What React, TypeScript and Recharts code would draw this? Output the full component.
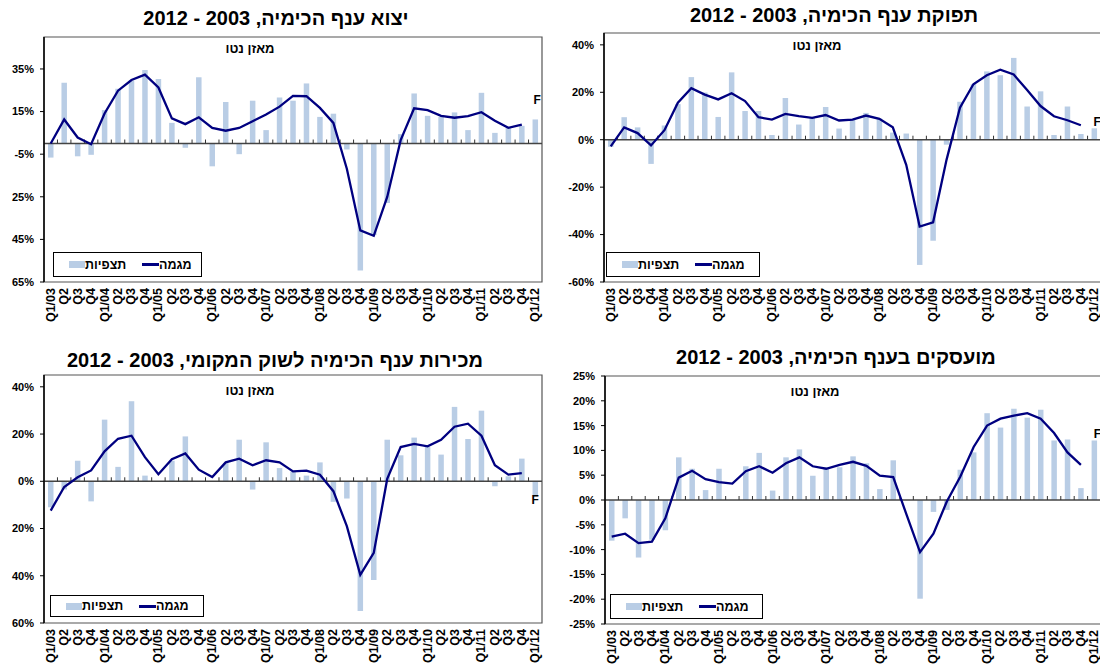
import React from "react";
import {
  ComposedChart,
  Bar,
  Line,
  XAxis,
  YAxis,
  ReferenceLine,
  ReferenceArea,
  ReferenceDot,
} from "recharts";

const FONT = '"Liberation Sans", Arial, sans-serif';
const BAR = "#B9CDE5";
const LINE = "#000080";
const BORDER = "#555555";

const quarters = [
  "Q1/03", "Q2", "Q3", "Q4", "Q1/04", "Q2", "Q3", "Q4", "Q1/05", "Q2", "Q3", "Q4",
  "Q1/06", "Q2", "Q3", "Q4", "Q1/07", "Q2", "Q3", "Q4", "Q1/08", "Q2", "Q3", "Q4",
  "Q1/09", "Q2", "Q3", "Q4", "Q1/10", "Q2", "Q3", "Q4", "Q1/11", "Q2", "Q3", "Q4",
  "Q1/12",
];

// יצוא
const exportObs = [
  -6.6, 28.5, -6.0, -5.3, 15.7, 25.7, 29.5, 34.5, 30.3, 9.7, -2.0, 31.1,
  -10.7, 19.5, -5.0, 20.1, 6.3, 21.6, 20.1, 28.2, 12.5, 14.0, -2.8, -59.6,
  -43.0, -27.9, 4.4, 23.5, 13.0, 12.5, 14.6, 6.3, 23.8, 5.0, 7.4, 8.3, 11.3,
];
const exportTrend = [
  0, 11.3, 2.8, -0.3, 14.1, 24.8, 29.8, 32.3, 26.3, 11.8, 9.1, 12.3,
  7.3, 6.0, 7.3, 10.5, 13.6, 17.3, 22.4, 22.2, 16.7, 9.7, -11.8, -40.8,
  -43.3, -25.1, 1.6, 16.5, 15.7, 13.0, 12.1, 12.9, 14.7, 10.7, 7.4, 8.9, null,
];
const exportTicks = [35, 15, -5, -25, -45, -65];
const exportTickLabels = ["35%", "15%", "-5%", "25%", "45%", "65%"];

// תפוקה
const supplyObs = [
  -3.0, 9.5, 5.2, -10.2, 6.0, 15.0, 26.4, 19.9, 9.6, 28.4, 12.1, 12.1,
  2.0, 17.6, 6.4, 9.2, 13.8, 4.7, 8.5, 11.3, 8.9, 3.0, 2.6, -52.8,
  -42.6, -2.1, 16.0, 23.4, 28.8, 27.2, 34.5, 14.0, 20.4, 2.0, 14.0, 2.4, 4.8,
];
const supplyTrend = [
  -2.8, 5.2, 2.8, -2.4, 4.0, 15.6, 21.7, 19.0, 17.0, 19.6, 16.3, 9.5,
  8.5, 10.9, 9.9, 9.2, 10.4, 8.1, 8.5, 10.2, 8.8, 5.2, -10.6, -36.6,
  -34.8, -8.5, 13.5, 23.4, 27.2, 29.5, 27.5, 21.0, 14.2, 9.9, 8.2, 6.1, null,
];
const supplyTicks = [40, 20, 0, -20, -40, -60];
const supplyTickLabels = ["40%", "20%", "0%", "-20%", "-40%", "-60%"];

// מכירות לשוק המקומי
const localObs = [
  -11.0, -3.5, 8.7, -8.5, 26.1, 6.1, 33.9, 2.4, 0, 8.7, 19.0, 0,
  0, 7.7, 17.6, -3.5, 16.5, 5.6, 4.0, 2.4, 8.0, -8.7, -7.3, -54.9,
  -41.8, 17.6, 11.0, 18.5, 14.5, 11.3, 31.5, 17.9, 29.9, -2.1, 2.1, 9.6, -6.3,
];
const localTrend = [
  -12.4, -2.4, 1.7, 4.6, 12.7, 18.0, 19.3, 10.2, 3.0, 9.3, 11.8, 4.9,
  1.8, 8.0, 9.6, 6.8, 8.9, 8.0, 4.2, 4.5, 2.8, -4.2, -19.0, -39.6,
  -30.3, 1.0, 14.5, 15.8, 14.8, 17.6, 23.1, 24.4, 19.3, 6.8, 2.8, 3.5, null,
];
const localTicks = [40, 20, 0, -20, -40, -60];
const localTickLabels = ["40%", "20%", "0%", "20%", "40%", "60%"];

// מועסקים
const employObs = [
  -8.2, -3.7, -11.6, -8.0, -6.1, 8.6, 6.3, 2.0, 6.3, 0, 6.8, 9.5,
  1.9, 8.6, 10.2, 4.9, 6.6, 6.6, 8.8, 7.4, 2.2, 8.0, 0, -19.9,
  -2.4, -2.0, 6.1, 9.6, 17.5, 14.6, 18.4, 16.6, 18.2, 12.0, 12.2, 2.4, 12.0,
];
const employTrend = [
  -7.4, -6.8, -8.7, -8.4, -3.7, 4.5, 5.9, 4.2, 3.6, 3.3, 5.8, 6.8,
  5.5, 7.4, 8.6, 6.8, 6.3, 7.1, 7.7, 6.9, 4.9, 4.6, -3.0, -10.5,
  -6.8, -0.3, 4.7, 10.7, 15.0, 16.4, 17.0, 17.5, 16.4, 13.5, 9.6, 7.1, null,
];
const employTicks = [25, 20, 15, 10, 5, 0, -5, -10, -15, -20, -25];
const employTickLabels = employTicks.map((t) => `${t}%`);

const ZeroLine = (props: any) => {
  const { x1, x2, y1 } = props;
  const step = (x2 - x1) / quarters.length;
  const marks = [];
  for (let i = 1; i < quarters.length; i++) {
    const x = x1 + step * i;
    marks.push(<line key={i} x1={x} x2={x} y1={y1 - 4} y2={y1} stroke="#333" strokeWidth={1} />);
  }
  return (
    <g>
      <line x1={x1} x2={x2} y1={y1} y2={y1} stroke="#444" strokeWidth={1.5} />
      {marks}
    </g>
  );
};

const QuarterTick = (props: any) => {
  const { x, y, payload } = props;
  return (
    <text
      x={0}
      y={0}
      transform={`translate(${x},${y + 6}) rotate(-90)`}
      textAnchor="end"
      dominantBaseline="central"
      fontFamily={FONT}
      fontWeight="bold"
      fontSize={12.5}
      fill="#000"
    >
      {quarters[Number(payload.value)]}
    </text>
  );
};

// "F" (forecast) mark above / below the last bar
const makeFMark = (dx: number, dy: number) => (props: any) => (
  <text
    x={props.cx + dx}
    y={props.cy + dy}
    textAnchor="middle"
    dominantBaseline="central"
    fontFamily={FONT}
    fontWeight="bold"
    fontSize={12}
    fill="#000"
  >
    F
  </text>
);

interface PanelProps {
  left: number;
  top: number;
  height: number;
  margin: { top: number; right: number; bottom: number; left: number };
  xHeight: number;
  obs: number[];
  trend: (number | null)[];
  domain: [number, number];
  ticks: number[];
  tickLabels: string[];
  fdx: number;
  fdy: number;
}

function Panel({ left, top, height, margin, xHeight, obs, trend, domain, ticks, tickLabels, fdx, fdy }: PanelProps) {
  const data = quarters.map((_, i) => ({ k: String(i), obs: obs[i], trend: trend[i] }));
  const last = quarters.length - 1;
  return (
    <div style={{ position: "absolute", left, top }}>
      <ComposedChart width={550} height={height} data={data} margin={margin}>
        <ReferenceArea
          y1={domain[0]}
          y2={domain[1]}
          fill="none"
          stroke={BORDER}
          strokeWidth={1.2}
          ifOverflow="visible"
        />
        <XAxis
          dataKey="k"
          interval={0}
          height={xHeight}
          tickSize={0}
          tickMargin={0}
          axisLine={false}
          tickLine={false}
          tick={<QuarterTick />}
        />
        <YAxis
          type="number"
          domain={domain}
          ticks={ticks}
          interval={0}
          width={40}
          tickSize={4}
          tickMargin={6}
          axisLine={{ stroke: "#000", strokeWidth: 1.5 }}
          tickLine={{ stroke: "#000" }}
          tick={{ fontSize: 11, fontWeight: "bold", fill: "#000", fontFamily: FONT }}
          tickFormatter={(v: number) => tickLabels[ticks.indexOf(v)] ?? ""}
        />
        <Bar dataKey="obs" fill={BAR} barSize={5.5} isAnimationActive={false} />
        <ReferenceLine y={0} shape={ZeroLine} />
        <Line
          type="linear"
          dataKey="trend"
          stroke={LINE}
          strokeWidth={2.3}
          dot={false}
          connectNulls={false}
          isAnimationActive={false}
        />
        <ReferenceDot
          x={String(last)}
          y={obs[last]}
          r={0}
          ifOverflow="visible"
          shape={makeFMark(fdx, fdy)}
        />
      </ComposedChart>
    </div>
  );
}

const Title = ({ text, cx, cy }: { text: string; cx: number; cy: number }) => (
  <div
    style={{
      position: "absolute",
      left: cx,
      top: cy - 12,
      transform: "translateX(-50%)",
      whiteSpace: "nowrap",
      direction: "rtl",
      fontFamily: FONT,
      fontWeight: "bold",
      fontSize: 20,
      lineHeight: "24px",
      color: "#000",
    }}
  >
    {text}
  </div>
);

const Note = ({ cx, cy }: { cx: number; cy: number }) => (
  <div
    style={{
      position: "absolute",
      left: cx,
      top: cy - 8,
      transform: "translateX(-50%)",
      whiteSpace: "nowrap",
      direction: "rtl",
      fontFamily: FONT,
      fontWeight: "bold",
      fontSize: 13,
      lineHeight: "16px",
      color: "#000",
    }}
  >
    מאזן נטו
  </div>
);

const LegendBox = ({ x, y, w, h }: { x: number; y: number; w: number; h: number }) => (
  <div
    style={{
      position: "absolute",
      left: x,
      top: y,
      width: w,
      height: h,
      boxSizing: "border-box",
      border: "1px solid #000",
      background: "#fff",
      display: "flex",
      alignItems: "center",
      paddingLeft: 15,
      fontFamily: FONT,
      fontWeight: "bold",
      fontSize: 12.5,
      color: "#000",
    }}
  >
    <span style={{ width: 16, height: 7, background: BAR, flex: "none" }} />
    <span style={{ direction: "rtl", width: 57, textAlign: "left", flex: "none" }}>תצפיות</span>
    <span style={{ width: 17, height: 3, background: LINE, flex: "none" }} />
    <span style={{ direction: "rtl", flex: "none" }}>מגמה</span>
  </div>
);

export default function App() {
  return (
    <div
      style={{
        position: "absolute",
        left: 0,
        top: 0,
        width: 1100,
        height: 664,
        overflow: "hidden",
        background: "#fff",
      }}
    >
      <Panel
        left={0}
        top={0}
        height={330}
        margin={{ top: 37, right: 8, bottom: 0, left: 4 }}
        xHeight={48}
        obs={exportObs}
        trend={exportTrend}
        domain={[-65, 50]}
        ticks={exportTicks}
        tickLabels={exportTickLabels}
        fdx={2}
        fdy={-19}
      />
      <Panel
        left={555}
        top={0}
        height={330}
        margin={{ top: 33, right: 4, bottom: 0, left: 9 }}
        xHeight={48}
        obs={supplyObs}
        trend={supplyTrend}
        domain={[-60, 45]}
        ticks={supplyTicks}
        tickLabels={supplyTickLabels}
        fdx={3}
        fdy={-6}
      />
      <Panel
        left={0}
        top={340}
        height={330}
        margin={{ top: 35, right: 8, bottom: 0, left: 4 }}
        xHeight={47}
        obs={localObs}
        trend={localTrend}
        domain={[-60, 45]}
        ticks={localTicks}
        tickLabels={localTickLabels}
        fdx={0}
        fdy={4}
      />
      <Panel
        left={555}
        top={340}
        height={330}
        margin={{ top: 36, right: 4, bottom: 0, left: 10 }}
        xHeight={46}
        obs={employObs}
        trend={employTrend}
        domain={[-25, 25]}
        ticks={employTicks}
        tickLabels={employTickLabels}
        fdx={3}
        fdy={-6}
      />

      <Title text="יצוא ענף הכימיה, 2003 - 2012" cx={276} cy={18} />
      <Title text="תפוקת ענף הכימיה, 2003 - 2012" cx={834} cy={15} />
      <Title text="מכירות ענף הכימיה לשוק המקומי, 2003 - 2012" cx={275} cy={360} />
      <Title text="מועסקים בענף הכימיה, 2003 - 2012" cx={836} cy={357} />

      <Note cx={250} cy={49} />
      <Note cx={817} cy={46} />
      <Note cx={250} cy={391} />
      <Note cx={815} cy={392} />

      <LegendBox x={53} y={252} w={149} h={25} />
      <LegendBox x={606} y={252} w={154} h={25} />
      <LegendBox x={50} y={595} w={154} h={22} />
      <LegendBox x={610} y={594} w={153} h={25} />
    </div>
  );
}
